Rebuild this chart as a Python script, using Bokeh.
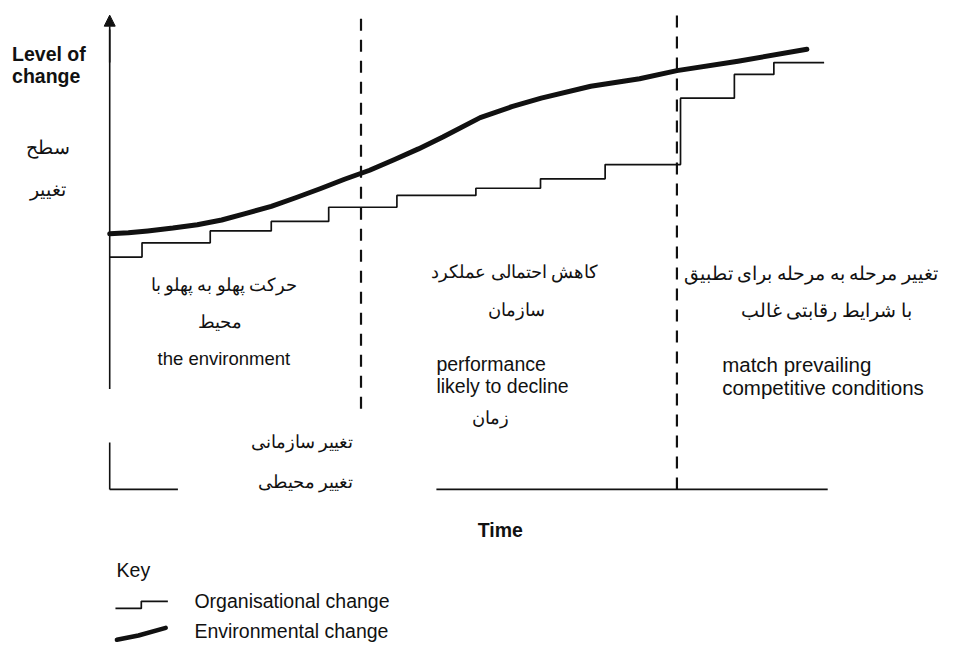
from bokeh.plotting import figure
from bokeh.models import Range1d, Label, Arrow, NormalHead
from bokeh.embed import file_html
from bokeh.resources import INLINE

# ---- data (time units 0..100, level units 0..100) ----
env_time = [0, 2.6, 5.3, 8.8, 12.2, 15.6, 19.0, 22.5, 25.9, 29.3, 32.7, 36.2,
            39.6, 43.0, 46.4, 51.6, 56.0, 60.1, 67.0, 73.8, 79.0, 87.5, 97.1]
env_level = [53.9, 54.1, 54.5, 55.1, 55.8, 56.8, 58.2, 59.7, 61.5, 63.4, 65.4, 67.3,
             69.5, 71.8, 74.3, 78.4, 80.7, 82.5, 85.0, 86.6, 88.3, 90.3, 92.8]

org_time = [0, 4.5, 14, 22.5, 30.5, 40, 51, 60, 69, 79.5, 87, 92.5, 99.5]
org_level = [49, 52, 54.5, 56.5, 59.5, 62, 63.5, 65.5, 68.5, 82.5, 87.5, 90, 90]

phase_bounds = [35, 79]          # times of the two dashed dividers
phase_bottoms = [17, 0]          # where each divider ends (level)

# axis pieces (the scan has gaps where labels were pasted)
yaxis_from = [0, 21.2]
yaxis_to = [9.9, 97]
xaxis_from = [0, 45.5]
xaxis_to = [9.5, 100]

SANS = "Liberation Sans"
FA = "Liberation Serif"
INK = "#111111"

p = figure(width=953, height=645,
           x_range=Range1d(-15.21, 117.52), y_range=Range1d(-32.91, 103.09),
           output_backend="svg", toolbar_location=None,
           min_border=0, min_border_left=0, min_border_right=0,
           min_border_top=0, min_border_bottom=0,
           outline_line_color=None, background_fill_color="white",
           border_fill_color="white")
p.axis.visible = False
p.grid.visible = False

# axes
p.segment(x0=[0, 0], y0=yaxis_from, x1=[0, 0], y1=yaxis_to, line_width=1.6, color=INK)
p.segment(x0=xaxis_from, y0=[0, 0], x1=xaxis_to, y1=[0, 0], line_width=1.6, color=INK)
p.add_layout(Arrow(end=NormalHead(size=11, fill_color=INK, line_color=INK),
                   x_start=0, y_start=90, x_end=0, y_end=100,
                   line_width=1.6, line_color=INK))

# dashed dividers
p.segment(x0=phase_bounds, x1=phase_bounds, y0=phase_bottoms, y1=[100, 100],
          line_dash="12 9", line_width=2.2, color=INK)

# series
p.step(org_time, org_level, mode="after", line_width=1.7, color=INK)
p.line(env_time, env_level, line_width=5, color=INK, line_cap="round", line_join="round")


def lab(text, x, y, size=19.5, font=SANS, align="center", baseline="middle",
        style="normal", color=INK):
    p.add_layout(Label(x=x, y=y, text=text, text_font=font,
                       text_font_size=f"{size}px", text_align=align,
                       text_baseline=baseline, text_font_style=style,
                       text_color=color))


# y label
lab("Level of", -13.6, 91.8, 19.5, SANS, "left", "alphabetic", "bold")
lab("change", -13.6, 87.2, 19.5, SANS, "left", "alphabetic", "bold")
lab("سطح", -8.6, 72.2, 19, FA)
lab("تغییر", -8.6, 63.2, 19, FA)

# phase 1
lab("حرکت پهلو به پهلو با", 15.9, 43.0, 17.5, FA)
lab("محیط", 15.3, 35.2, 17.5, FA)
lab("the environment", 15.9, 27.6, 18.5, SANS)

# phase 2
lab("کاهش احتمالی عملکرد", 56.4, 45.9, 17.5, FA)
lab("سازمان", 56.7, 37.9, 17.5, FA)
lab("performance", 45.5, 26.5, 19.5, SANS, "left", "alphabetic")
lab("likely to decline", 45.5, 21.8, 19.5, SANS, "left", "alphabetic")
lab("زمان", 53.0, 15.0, 17.5, FA)

# key translations
lab("تغییر سازمانی", 26.8, 10.1, 17.5, FA)
lab("تغییر محیطی", 27.3, 1.6, 17.5, FA)

# phase 3
lab("تغییر مرحله به مرحله  برای تطبیق", 116.0, 45.5, 18.5, FA, "right")
lab("با شرایط رقابتی غالب", 99.8, 37.7, 18.5, FA)
lab("match prevailing", 85.3, 26.3, 20.5, SANS, "left", "alphabetic")
lab("competitive conditions", 85.3, 21.4, 20.5, SANS, "left", "alphabetic")

# x label
lab("Time", 54.4, -8.6, 19.5, SANS, "center", "middle", "bold")

# key
lab("Key", 0.96, -16.9, 19.5, SANS, "left")
lab("Organisational change", 11.8, -23.5, 19.5, SANS, "left")
lab("Environmental change", 11.8, -29.8, 19.5, SANS, "left")
p.line([0.8, 4.4, 4.4, 8.1], [-25.1, -25.1, -23.6, -23.6], line_width=1.7, color=INK)
p.line([1.0, 4.0, 7.8], [-31.7, -30.8, -29.2], line_width=4.5, color=INK, line_cap="round")

open("out.html", "w").write(file_html(p, INLINE))
